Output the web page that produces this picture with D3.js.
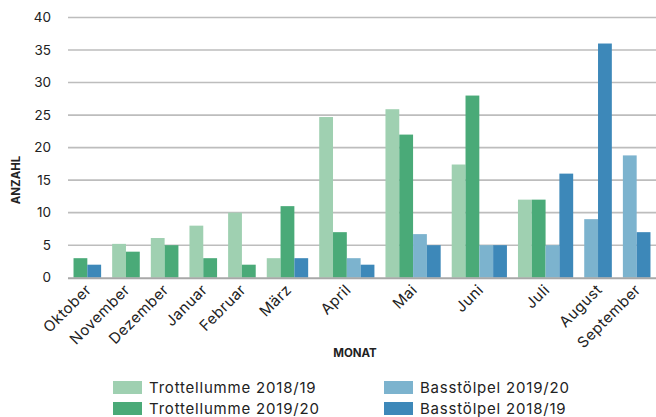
<!DOCTYPE html>
<html>
<head>
<meta charset="utf-8">
<script src="https://cdn.jsdelivr.net/npm/d3@7/dist/d3.min.js"></script>
<style>
  html, body { margin: 0; padding: 0; background: #fff; }
  svg { display: block; font-family: Inter, "DejaVu Sans", sans-serif; }
</style>
</head>
<body>
<svg id="chart" width="656" height="417"></svg>
<script>
// Monthly counts; null = no bar drawn for that month
const months = ["Oktober", "November", "Dezember", "Januar", "Februar", "März",
                "April", "Mai", "Juni", "Juli", "August", "September"];
const seriesNames = ["Trottellumme 2018/19", "Trottellumme 2019/20",
                     "Basstölpel 2019/20", "Basstölpel 2018/19"];
const trottel1819 = [null, 5.2, 6.1, 8, 10, 3, 24.7, 25.9, 17.4, 12, null, null];
const trottel1920 = [3, 4, 5, 3, 2, 11, 7, 22, 28, 12, null, null];
const bass1920    = [null, null, null, null, null, null, 3, 6.7, 5, 5, 9, 18.8];
const bass1819    = [2, null, null, null, null, 3, 2, 5, 5, 16, 36, 7];
const yTicks = [0, 5, 10, 15, 20, 25, 30, 35, 40];

const seriesValues = [trottel1819, trottel1920, bass1920, bass1819];
const colors = ["#9fd0b1", "#4aaa78", "#7cb3ce", "#3d88b9"];

const svg = d3.select("#chart");
const plotLeft = 68, plotRight = 656, plotTop = 17.5, plotBottom = 277.7;

const y = d3.scaleLinear().domain([0, 40]).range([plotBottom, plotTop]);

// Each month gets a band sized by the number of bars it actually has,
// plus a fixed gap (in bar-width units) between months.
const gapUnits = 0.8;
const groups = months.map((m, i) => {
  const bars = seriesValues
    .map((vals, s) => ({ s, v: vals[i] }))
    .filter(d => d.v !== null);
  return { month: m, bars };
});
let cursor = 0;
groups.forEach(g => {
  g.start = cursor + gapUnits / 2;
  g.center = g.start + g.bars.length / 2;
  cursor += g.bars.length + gapUnits;
});
const x = d3.scaleLinear().domain([0, cursor]).range([plotLeft, plotRight]);
const barW = x(1) - x(0);

// Gridlines
svg.append("g")
  .selectAll("line")
  .data(yTicks.filter(t => t > 0))
  .join("line")
  .attr("x1", plotLeft).attr("x2", plotRight)
  .attr("y1", d => y(d)).attr("y2", d => y(d))
  .attr("stroke", "#bdbdbd")
  .attr("stroke-width", 1.6);

// Y tick labels
svg.append("g")
  .selectAll("text")
  .data(yTicks)
  .join("text")
  .attr("x", 51)
  .attr("y", d => y(d))
  .attr("dy", "0.35em")
  .attr("text-anchor", "end")
  .attr("font-size", 13.5)
  .attr("fill", "#222")
  .text(d => d);

// Bars
const gSel = svg.append("g")
  .selectAll("g")
  .data(groups)
  .join("g");
gSel.selectAll("rect")
  .data(g => g.bars.map((b, j) => ({ ...b, pos: g.start + j })))
  .join("rect")
  .attr("x", d => x(d.pos))
  .attr("width", barW)
  .attr("y", d => y(d.v))
  .attr("height", d => y(0) - y(d.v))
  .attr("fill", d => colors[d.s]);

// Baseline
svg.append("line")
  .attr("x1", plotLeft).attr("x2", plotRight)
  .attr("y1", y(0) + 0.5).attr("y2", y(0) + 0.5)
  .attr("stroke", "#a8a8a8")
  .attr("stroke-width", 2);

// Month labels
svg.append("g")
  .selectAll("text")
  .data(groups)
  .join("text")
  .attr("transform", d => `translate(${x(d.center) + 5},${plotBottom + 13}) rotate(-45)`)
  .attr("text-anchor", "end")
  .attr("font-size", 15)
  .attr("letter-spacing", 0.5)
  .attr("fill", "#222")
  .text(d => d.month);

// Axis titles
svg.append("text")
  .attr("x", 355).attr("y", 357)
  .attr("text-anchor", "middle")
  .attr("font-size", 11.5)
  .attr("font-weight", "bold")
  .attr("fill", "#222")
  .text("MONAT");

svg.append("text")
  .attr("transform", "translate(20,180) rotate(-90)")
  .attr("text-anchor", "middle")
  .attr("font-size", 11.5)
  .attr("font-weight", "bold")
  .attr("fill", "#222")
  .text("ANZAHL");

// Legend: two columns, two rows
const legendPos = [[113, 381], [113, 402], [384, 381], [384, 402]];
const leg = svg.append("g")
  .selectAll("g")
  .data(seriesNames)
  .join("g")
  .attr("transform", (d, i) => `translate(${legendPos[i][0]},${legendPos[i][1]})`);
leg.append("rect")
  .attr("width", 29).attr("height", 13)
  .attr("fill", (d, i) => colors[i]);
leg.append("text")
  .attr("x", 36).attr("y", 6.5)
  .attr("dy", "0.36em")
  .attr("font-size", 15)
  .attr("letter-spacing", 0.8)
  .attr("fill", "#222")
  .text(d => d);
</script>
</body>
</html>
